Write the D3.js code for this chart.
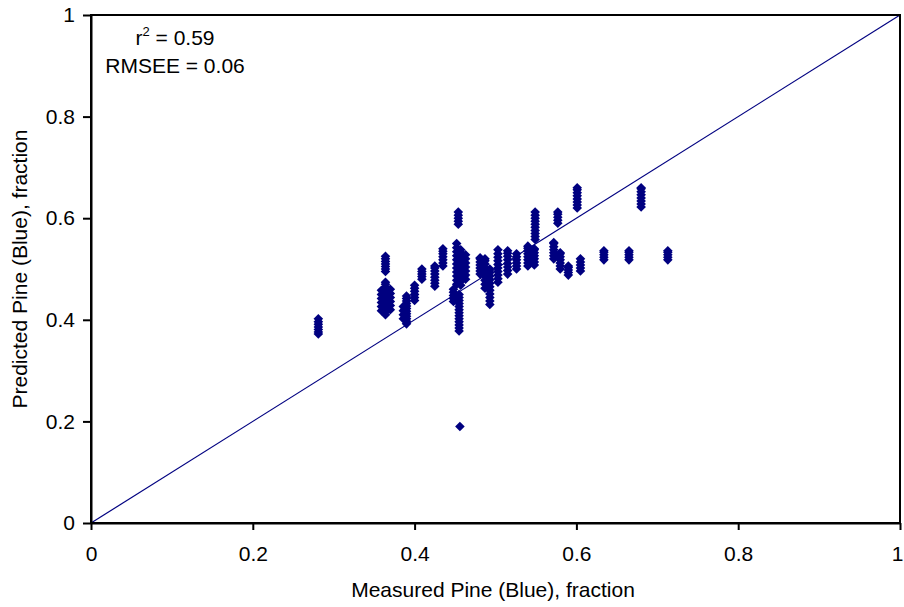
<!DOCTYPE html>
<html>
<head>
<meta charset="utf-8">
<script src="https://cdn.jsdelivr.net/npm/d3@7"></script>
<style>
  body { margin: 0; background: #fff; }
  text { font-family: "Liberation Sans", Arial, sans-serif; fill: #000; }
</style>
</head>
<body>
<script>
'use strict';

// measured fraction of each column of points
var measured = [0.281, 0.364, 0.359, 0.364, 0.370, 0.390, 0.386, 0.400, 0.409,
  0.425, 0.435, 0.454, 0.452, 0.457, 0.463, 0.448, 0.455, 0.456, 0.481, 0.487,
  0.493, 0.503, 0.515, 0.526, 0.540, 0.549, 0.548, 0.577, 0.572, 0.580, 0.590,
  0.601, 0.605, 0.634, 0.665, 0.680, 0.713];

// predicted fractions stacked at each measured value
var predicted = [
  [0.372, 0.376, 0.381, 0.386, 0.391, 0.396, 0.402],
  [0.495, 0.500, 0.505, 0.510, 0.515, 0.520, 0.525],
  [0.418, 0.426, 0.434, 0.442, 0.450, 0.458],
  [0.410, 0.416, 0.422, 0.428, 0.434, 0.440, 0.446, 0.452, 0.458, 0.464, 0.470, 0.474],
  [0.420, 0.428, 0.436, 0.444, 0.452, 0.460],
  [0.392, 0.397, 0.402, 0.407, 0.412, 0.417, 0.422, 0.427, 0.432, 0.437, 0.442, 0.447],
  [0.402, 0.410, 0.418, 0.426],
  [0.438, 0.444, 0.450, 0.456, 0.462, 0.468],
  [0.480, 0.485, 0.490, 0.495, 0.500],
  [0.466, 0.472, 0.478, 0.484, 0.490, 0.496, 0.502, 0.506],
  [0.506, 0.512, 0.518, 0.524, 0.530, 0.535, 0.540],
  [0.588, 0.594, 0.600, 0.606, 0.612],
  [0.470, 0.478, 0.486, 0.494, 0.502, 0.510, 0.518, 0.526, 0.534, 0.542, 0.550],
  [0.468, 0.476, 0.484, 0.492, 0.500, 0.508, 0.516, 0.524, 0.532, 0.538],
  [0.480, 0.488, 0.496, 0.504, 0.512, 0.520, 0.528],
  [0.436, 0.442, 0.448, 0.454, 0.460],
  [0.378, 0.384, 0.390, 0.396, 0.402, 0.408, 0.414, 0.420, 0.426, 0.432, 0.438, 0.444, 0.450],
  [0.190],
  [0.490, 0.496, 0.502, 0.508, 0.514, 0.520, 0.522],
  [0.462, 0.470, 0.478, 0.486, 0.494, 0.502, 0.510, 0.516, 0.520],
  [0.430, 0.437, 0.444, 0.451, 0.458, 0.465, 0.472, 0.479, 0.486, 0.493, 0.500],
  [0.474, 0.481, 0.488, 0.495, 0.502, 0.509, 0.516, 0.523, 0.530, 0.538],
  [0.490, 0.497, 0.504, 0.511, 0.518, 0.525, 0.531, 0.536],
  [0.500, 0.506, 0.512, 0.518, 0.524, 0.530],
  [0.506, 0.512, 0.518, 0.524, 0.530, 0.536, 0.541, 0.545],
  [0.558, 0.564, 0.570, 0.576, 0.582, 0.588, 0.594, 0.600, 0.606, 0.612],
  [0.508, 0.514, 0.520, 0.526, 0.532, 0.538, 0.540],
  [0.590, 0.596, 0.602, 0.608, 0.612],
  [0.520, 0.526, 0.532, 0.538, 0.544, 0.550, 0.552],
  [0.500, 0.506, 0.512, 0.518, 0.524, 0.530, 0.532],
  [0.488, 0.493, 0.498, 0.503, 0.506],
  [0.620, 0.626, 0.632, 0.638, 0.644, 0.650, 0.656, 0.660],
  [0.496, 0.502, 0.508, 0.514, 0.520],
  [0.518, 0.523, 0.528, 0.533, 0.536],
  [0.518, 0.523, 0.528, 0.533, 0.536],
  [0.622, 0.628, 0.634, 0.640, 0.646, 0.652, 0.658, 0.660],
  [0.518, 0.523, 0.528, 0.533, 0.536]
];

var tickValues = [0, 0.2, 0.4, 0.6, 0.8, 1];
var statLines = ['RMSEE = 0.06'];

var W = 904, H = 607;
var margin = {left: 91, top: 15, right: 4, bottom: 84};
var pw = W - margin.left - margin.right;
var ph = H - margin.top - margin.bottom;
var navy = '#000080';
var FONT = '21px';

/** Square diamond, like the spreadsheet marker. */
var squareDiamond = {
  draw: function(ctx, size) {
    var r = Math.sqrt(size / 2);
    ctx.moveTo(0, -r);
    ctx.lineTo(r, 0);
    ctx.lineTo(0, r);
    ctx.lineTo(-r, 0);
    ctx.closePath();
  }
};

function main() {
  var svg = d3.select('body').append('svg')
    .attr('width', W)
    .attr('height', H);

  var x = d3.scaleLinear().domain([0, 1]).range([0, pw]);
  var y = d3.scaleLinear().domain([0, 1]).range([ph, 0]);

  var g = svg.append('g')
    .attr('transform', 'translate(' + margin.left + ',' + margin.top + ')');

  // 1:1 line
  g.append('line')
    .attr('x1', x(0)).attr('y1', y(0))
    .attr('x2', x(1)).attr('y2', y(1))
    .attr('stroke', navy)
    .attr('stroke-width', 1.2);

  var points = [];
  measured.forEach(function(m, i) {
    predicted[i].forEach(function(p) { points.push([m, p]); });
  });

  g.selectAll('path.pt')
    .data(points)
    .enter().append('path')
    .attr('class', 'pt')
    .attr('d', d3.symbol().type(squareDiamond).size(46))
    .attr('transform', function(d) {
      return 'translate(' + x(d[0]) + ',' + y(d[1]) + ')';
    })
    .attr('fill', navy);

  // plot frame
  g.append('rect')
    .attr('width', pw).attr('height', ph)
    .attr('fill', 'none')
    .attr('stroke', '#000')
    .attr('stroke-width', 2);

  var fmt = function(d) { return d === 0 || d === 1 ? String(d) : d.toFixed(1); };

  var xAxis = g.append('g')
    .attr('transform', 'translate(0,' + ph + ')')
    .call(d3.axisBottom(x).tickValues(tickValues).tickFormat(fmt)
      .tickSize(7).tickSizeOuter(0).tickPadding(16));
  var yAxis = g.append('g')
    .call(d3.axisLeft(y).tickValues(tickValues).tickFormat(fmt)
      .tickSize(8).tickSizeOuter(0).tickPadding(8));

  [xAxis, yAxis].forEach(function(a) {
    a.select('.domain').attr('stroke-width', 2);
    a.selectAll('.tick line').attr('stroke-width', 2);
    a.selectAll('.tick text')
      .style('font-size', FONT)
      .style('font-family', '"Liberation Sans", Arial, sans-serif');
  });

  // keep the last x label inside the window
  xAxis.selectAll('.tick text')
    .filter(function(d) { return d === 1; })
    .attr('dx', -3);

  // axis titles
  svg.append('text')
    .attr('x', 493)
    .attr('y', 597)
    .attr('text-anchor', 'middle')
    .style('font-size', FONT)
    .text('Measured Pine (Blue), fraction');

  svg.append('text')
    .attr('transform', 'translate(27,' + (margin.top + ph / 2) + ') rotate(-90)')
    .attr('text-anchor', 'middle')
    .style('font-size', FONT)
    .text('Predicted Pine (Blue), fraction');

  // statistics
  var r2 = svg.append('text')
    .attr('x', 175)
    .attr('y', 45)
    .attr('text-anchor', 'middle')
    .style('font-size', FONT);
  r2.append('tspan').text('r');
  r2.append('tspan').attr('dy', -9).style('font-size', '13px').text('2');
  r2.append('tspan').attr('dy', 9).text(' = 0.59');

  svg.selectAll('text.stat')
    .data(statLines)
    .enter().append('text')
    .attr('class', 'stat')
    .attr('x', 175)
    .attr('y', 73)
    .attr('text-anchor', 'middle')
    .style('font-size', FONT)
    .text(function(d) { return d; });
}

main();
</script>
</body>
</html>
